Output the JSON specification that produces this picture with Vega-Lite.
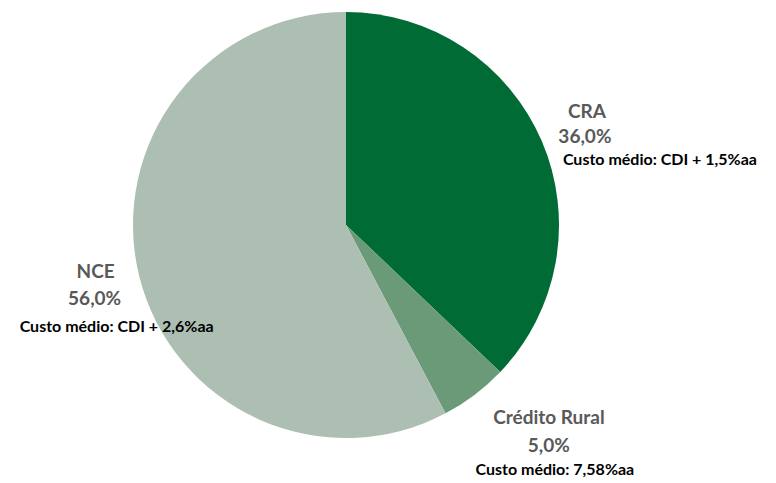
{
  "$schema": "https://vega.github.io/schema/vega-lite/v6.json",
  "autosize": {"type": "none"},
  "padding": {"left": 0, "top": 0, "right": 84, "bottom": 33},
  "width": 692,
  "height": 450,
  "background": "white",
  "view": {"stroke": null},
  "data": {
    "values": [
      {"categoria": "CRA", "valor": 36, "pct": "36,0%", "custo": "Custo médio: CDI + 1,5%aa"},
      {"categoria": "Crédito Rural", "valor": 5, "pct": "5,0%", "custo": "Custo médio: 7,58%aa"},
      {"categoria": "NCE", "valor": 56, "pct": "56,0%", "custo": "Custo médio: CDI + 2,6%aa"}
    ]
  },
  "encoding": {
    "theta": {"field": "valor", "type": "quantitative", "stack": true},
    "order": {"field": "categoria", "sort": "ascending"}
  },
  "layer": [
    {
      "mark": {"type": "arc", "outerRadius": 213, "stroke": null},
      "encoding": {
        "color": {
          "field": "categoria", "type": "nominal", "legend": null,
          "scale": {"domain": ["CRA", "Crédito Rural", "NCE"], "range": ["#006b35", "#6a9a78", "#adbfb3"]}
        }
      }
    },
    {
      "mark": {"type": "text", "radius": 261, "dx": 1, "dy": -10, "font": "Lato", "fontWeight": "bold", "fontSize": 19, "color": "#595959"},
      "encoding": {"text": {"condition": {"test": "datum.categoria === 'CRA'", "field": "categoria"}, "value": ""}}
    },
    {
      "mark": {"type": "text", "radius": 261, "dx": -1, "dy": 15, "font": "Lato", "fontWeight": "bold", "fontSize": 19, "color": "#595959"},
      "encoding": {"text": {"condition": {"test": "datum.categoria === 'CRA'", "field": "pct"}, "value": ""}}
    },
    {
      "mark": {"type": "text", "radius": 261, "dx": 74, "dy": 38, "font": "Lato", "fontWeight": "bold", "fontSize": 16, "color": "#000000"},
      "encoding": {"text": {"condition": {"test": "datum.categoria === 'CRA'", "field": "custo"}, "value": ""}}
    },
    {
      "mark": {"type": "text", "radius": 260, "dx": 46, "dy": -14, "font": "Lato", "fontWeight": "bold", "fontSize": 19, "color": "#595959"},
      "encoding": {"text": {"condition": {"test": "datum.categoria === 'Crédito Rural'", "field": "categoria"}, "value": ""}}
    },
    {
      "mark": {"type": "text", "radius": 260, "dx": 46, "dy": 14, "font": "Lato", "fontWeight": "bold", "fontSize": 19, "color": "#595959"},
      "encoding": {"text": {"condition": {"test": "datum.categoria === 'Crédito Rural'", "field": "pct"}, "value": ""}}
    },
    {
      "mark": {"type": "text", "radius": 260, "dx": 52, "dy": 38, "font": "Lato", "fontWeight": "bold", "fontSize": 16, "color": "#000000"},
      "encoding": {"text": {"condition": {"test": "datum.categoria === 'Crédito Rural'", "field": "custo"}, "value": ""}}
    },
    {
      "mark": {"type": "text", "radius": 260, "dx": 2, "dy": -16, "font": "Lato", "fontWeight": "bold", "fontSize": 19, "color": "#595959"},
      "encoding": {"text": {"condition": {"test": "datum.categoria === 'NCE'", "field": "categoria"}, "value": ""}}
    },
    {
      "mark": {"type": "text", "radius": 260, "dx": 1, "dy": 11, "font": "Lato", "fontWeight": "bold", "fontSize": 19, "color": "#595959"},
      "encoding": {"text": {"condition": {"test": "datum.categoria === 'NCE'", "field": "pct"}, "value": ""}}
    },
    {
      "mark": {"type": "text", "radius": 260, "dx": 23, "dy": 39, "font": "Lato", "fontWeight": "bold", "fontSize": 16, "color": "#000000"},
      "encoding": {"text": {"condition": {"test": "datum.categoria === 'NCE'", "field": "custo"}, "value": ""}}
    }
  ]
}
